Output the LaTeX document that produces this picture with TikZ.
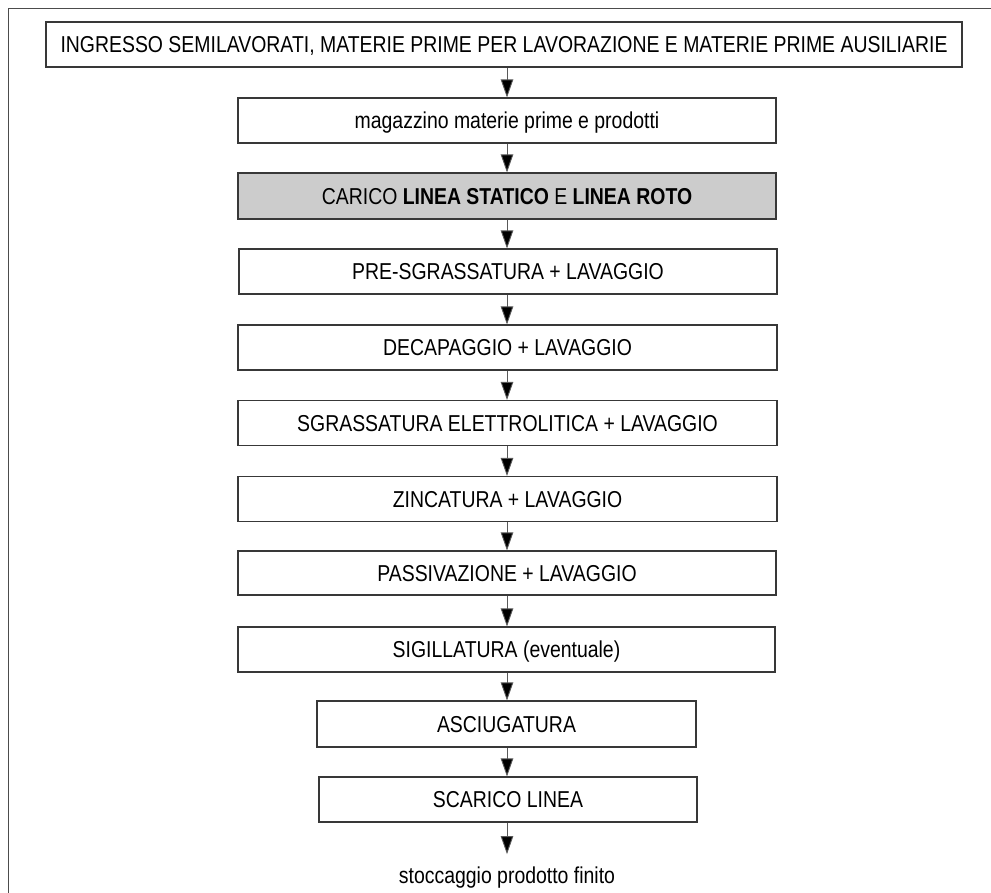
\documentclass[tikz,border=0pt]{standalone}
\usepackage{fontspec}
\setmainfont{Liberation Sans}[FakeStretch=0.845]
\usetikzlibrary{arrows.meta}
\begin{document}
\begin{tikzpicture}[x=1pt,y=-1pt,
  box/.style={draw=black!78,line width=1.1pt,fill=white,minimum height=45pt,inner sep=0pt,
    font=\fontsize{23}{27}\selectfont,text height=16.5pt,text depth=0pt},
  arr/.style={draw=black!65,line width=0.9pt,-{Triangle[width=12.5pt,length=18pt,fill=black]}},
  plain/.style={inner sep=0pt,font=\fontsize{23}{27}\selectfont}]
\useasboundingbox (0,0) rectangle (991,893);
\draw[black!70,line width=1pt] (8,893) -- (8,8.5) -- (991,8.5);
\node[box,minimum width=916pt] (in) at (504,44.5) {INGRESSO SEMILAVORATI, MATERIE PRIME PER LAVORAZIONE E MATERIE PRIME AUSILIARIE};
\node[box,minimum width=538pt] (mag) at (507,120.5) {magazzino materie prime e prodotti};
\node[box,minimum width=538pt,minimum height=46pt,fill=black!20] (car) at (507,196) {CARICO \textbf{LINEA STATICO} E \textbf{LINEA ROTO}};
\node[box,minimum width=538pt] (pre) at (508,271.5) {PRE-SGRASSATURA + LAVAGGIO};
\node[box,minimum width=539pt] (dec) at (507.5,347.5) {DECAPAGGIO + LAVAGGIO};
\node[box,minimum width=539pt] (sgr) at (507.5,423) {SGRASSATURA ELETTROLITICA + LAVAGGIO};
\node[box,minimum width=539pt] (zin) at (507.5,499) {ZINCATURA + LAVAGGIO};
\node[box,minimum width=538pt,minimum height=44pt] (pas) at (507,573) {PASSIVAZIONE + LAVAGGIO};
\node[box,minimum width=537pt] (sig) at (506.5,649.5) {SIGILLATURA (eventuale)};
\node[box,minimum width=379pt,minimum height=46pt] (asc) at (506.5,724) {ASCIUGATURA};
\node[box,minimum width=378pt] (sca) at (508,799.5) {SCARICO LINEA};
\node[plain,anchor=base] (sto) at (507,883) {stoccaggio prodotto finito};
\draw[arr] (in.south -| mag.north) -- (mag.north);
\draw[arr] (mag.south) -- (car.north);
\draw[arr] (car.south) -- (car.south |- pre.north);
\draw[arr] (pre.south -| car.south) -- (car.south |- dec.north);
\draw[arr] (dec.south -| car.south) -- (car.south |- sgr.north);
\draw[arr] (sgr.south -| car.south) -- (car.south |- zin.north);
\draw[arr] (zin.south -| car.south) -- (car.south |- pas.north);
\draw[arr] (pas.south) -- (sig.north -| pas.south);
\draw[arr] (sig.south -| pas.south) -- (asc.north -| pas.south);
\draw[arr] (asc.south -| pas.south) -- (sca.north -| pas.south);
\draw[arr,shorten >=12pt] (sca.south -| pas.south) -- (sto.north -| pas.south);
\end{tikzpicture}
\end{document}
